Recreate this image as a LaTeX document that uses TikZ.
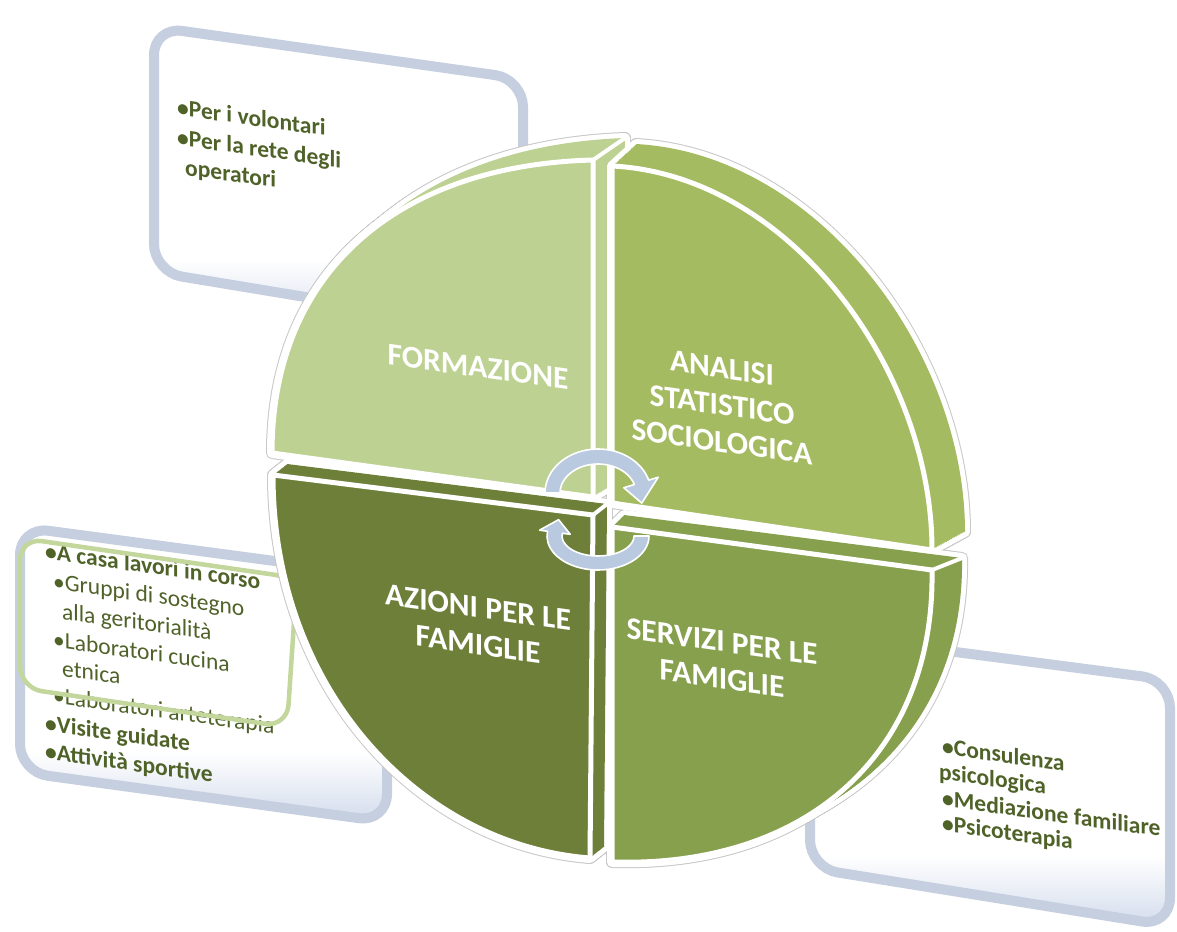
\documentclass[tikz,border=0pt]{standalone}
\usepackage{fontspec}
\setmainfont{Carlito}
\usetikzlibrary{calc}

\definecolor{qone}{HTML}{BDD192}
\definecolor{qtwo}{HTML}{A5BB62}
\definecolor{qthree}{HTML}{6E7F3A}
\definecolor{qfour}{HTML}{86A04D}
\definecolor{txtgreen}{HTML}{4F6228}
\definecolor{boxedge}{HTML}{C6CFDF}
\definecolor{boxgrad}{HTML}{D3DCEC}
\definecolor{framegreen}{HTML}{C3D69B}
\definecolor{arrowblue}{HTML}{B8C9E0}
\definecolor{rimgrey}{HTML}{C8C8C8}

% white panel that fades to pale blue near its lower edge
\pgfdeclareverticalshading{boxfill}{100bp}{color(0bp)=(boxgrad); color(25bp)=(boxgrad); color(37bp)=(white); color(100bp)=(white)}

% one extruded quarter: stack of slices from back face to front face
\newcommand\solidquad[2]{%
  \foreach \k in {0,...,20}{\pgfmathsetmacro\mix{1-\k/20}%
    \draw[white,line width=10pt,line join=round] [wedge={#1}{\mix}];}%
  \foreach \k in {0,...,20}{\pgfmathsetmacro\mix{1-\k/20}%
    \fill[#2] [wedge={#1}{\mix}];}%
  \draw[white,line width=5pt,line join=round] [wedge={#1}{0}];%
}

\begin{document}
\begin{tikzpicture}[x=1pt,y=-1pt,
  wedge/.style 2 args={insert path={($(#1fC)!#2!(#1bC)$) -- ($(#1fA)!#2!(#1bA)$) .. controls ($(#1fP)!#2!(#1bP)$) and ($(#1fQ)!#2!(#1bQ)$) .. ($(#1fB)!#2!(#1bB)$) -- cycle}},
  panel/.style={shading=boxfill, draw=boxedge, line width=10pt, rounded corners=28pt},
  listtext/.style={text=txtgreen, anchor=base west, inner sep=0pt, yslant=-0.14, font=\fontsize{23.5}{26}\selectfont},
  listbold/.style={listtext, font=\fontsize{23.5}{26}\selectfont\bfseries},
  qlabel/.style={text=white, align=center, inner sep=0pt, yslant=-0.14, font=\fontsize{31.5}{37}\selectfont\bfseries},
  cycarrow/.style={fill=arrowblue, draw=white, line width=1.6pt, line join=round},
  rimedge/.style={white, line width=4pt, line cap=round}
]
\fill[white] (0,0) rectangle (1177,931);
\useasboundingbox (0,0) rectangle (1177,931);

% ---------- side panels ----------
\shadedraw[panel] (154,27) -- (523,79) -- (523,333) -- (154,272) -- cycle;
\shadedraw[panel] (20,527) -- (387,576) -- (387,822) -- (20,772) -- cycle;
\shadedraw[panel] (810,633) -- (1170,680) -- (1170,926) -- (810,868) -- cycle;

\node[listbold] (f1) at (177,115) {•Per i volontari};
\node[listbold] (f2) at (177,145) {•Per la rete degli};
\node[listbold] (f3) at (185,175) {operatori};

\node[listbold] (a1) at (45,559) {•A casa lavori in corso};
\node[listtext] (a2) at (53,589) {•Gruppi di sostegno};
\node[listtext] (a3) at (62,619) {alla geritorialità};
\node[listtext] (a4) at (53,647) {•Laboratori cucina};
\node[listtext] (a5) at (62,676) {etnica};
\node[listtext] (a6) at (53,703) {•Laboratori arteterapia};
\node[listbold] (a7) at (45,731) {•Visite guidate};
\node[listbold] (a8) at (45,759) {•Attività sportive};

\node[listbold] (s1) at (942,754) {•Consulenza};
\node[listbold] (s2) at (939,779) {psicologica};
\node[listbold] (s3) at (942,806) {•Mediazione familiare};
\node[listbold] (s4) at (942,831) {•Psicoterapia};

\draw[framegreen, line width=4.5pt, rounded corners=22pt]
  (20,538) -- (297,578) -- (287,727) -- (20,688) -- cycle;

% ---------- quarters: front face (f) and back face (b) ----------
\coordinate (q1fC) at (593,497); \coordinate (q1fA) at (593,160);
\coordinate (q1fP) at (400,165); \coordinate (q1fQ) at (272,270);
\coordinate (q1fB) at (272,453);
\coordinate (q1bC) at (623,479); \coordinate (q1bA) at (625,138);
\coordinate (q1bP) at (425,145); \coordinate (q1bQ) at (288,256);
\coordinate (q1bB) at (287,441);

\coordinate (q2fC) at (612,503); \coordinate (q2fA) at (612,166);
\coordinate (q2fP) at (790,175); \coordinate (q2fQ) at (932,370);
\coordinate (q2fB) at (932,550);
\coordinate (q2bC) at (640,485); \coordinate (q2bA) at (636,144);
\coordinate (q2bP) at (818,154); \coordinate (q2bQ) at (965,351);
\coordinate (q2bB) at (965,532);

\coordinate (q3fC) at (593,515); \coordinate (q3fA) at (273,475);
\coordinate (q3fP) at (273,690); \coordinate (q3fQ) at (420,845);
\coordinate (q3fB) at (590,858);
\coordinate (q3bC) at (607,504); \coordinate (q3bA) at (287,464);
\coordinate (q3bP) at (287,679); \coordinate (q3bQ) at (434,834);
\coordinate (q3bB) at (604,847);

\coordinate (q4fC) at (612,527); \coordinate (q4fA) at (932,570);
\coordinate (q4fP) at (935,755); \coordinate (q4fQ) at (805,868);
\coordinate (q4fB) at (612,862);
\coordinate (q4bC) at (624,515); \coordinate (q4bA) at (962,558);
\coordinate (q4bP) at (965,740); \coordinate (q4bQ) at (825,855);
\coordinate (q4bB) at (622,854);

% thin grey rim round the whole disc
\foreach \q in {q1,q2,q3,q4}{
  \foreach \k in {0,...,20}{\pgfmathsetmacro\mix{1-\k/20}
    \draw[rimgrey,line width=12pt,line join=round] [wedge={\q}{\mix}];}}

\solidquad{q1}{qone}
\draw[rimedge] (q1fA) -- (q1bA);
\solidquad{q2}{qtwo}
\solidquad{q3}{qthree}
\draw[rimedge] (q3fC) -- (q3bC);
\solidquad{q4}{qfour}
\draw[rimedge] (q4fA) -- (q4bA);

% ---------- labels ----------
\node[qlabel] (formazione) at (478,367) {FORMAZIONE};
\node[qlabel] (analisi) at (722,405) {ANALISI\\STATISTICO\\SOCIOLOGICA};
\node[qlabel] (azioni) at (478,626) {AZIONI PER LE\\FAMIGLIE};
\node[qlabel] (servizi) at (722,660) {SERVIZI PER LE\\FAMIGLIE};

% ---------- circular arrows ----------
\coordinate (cu) at (598,493);
\coordinate (cl) at (598,536);
\path[cycarrow] ($(cu)+(180:53 and 44)$)
  arc[start angle=180, end angle=343, x radius=53, y radius=44]
  -- ($(cu)+(343:63 and 54)$) -- ($(cu)+(16:45.5 and 36.5)$)
  -- ($(cu)+(343:27 and 18)$) -- ($(cu)+(343:38 and 29)$)
  arc[start angle=343, end angle=180, x radius=38, y radius=29] -- cycle;
\path[cycarrow] ($(cl)+(0:51 and 34)$)
  arc[start angle=0, end angle=188, x radius=51, y radius=34]
  -- ($(cl)+(188:59 and 42)$) -- ($(cl)+(213:47 and 30)$)
  -- ($(cl)+(188:28 and 12)$) -- ($(cl)+(188:36 and 20)$)
  arc[start angle=188, end angle=0, x radius=36, y radius=20] -- cycle;
\end{tikzpicture}
\end{document}
